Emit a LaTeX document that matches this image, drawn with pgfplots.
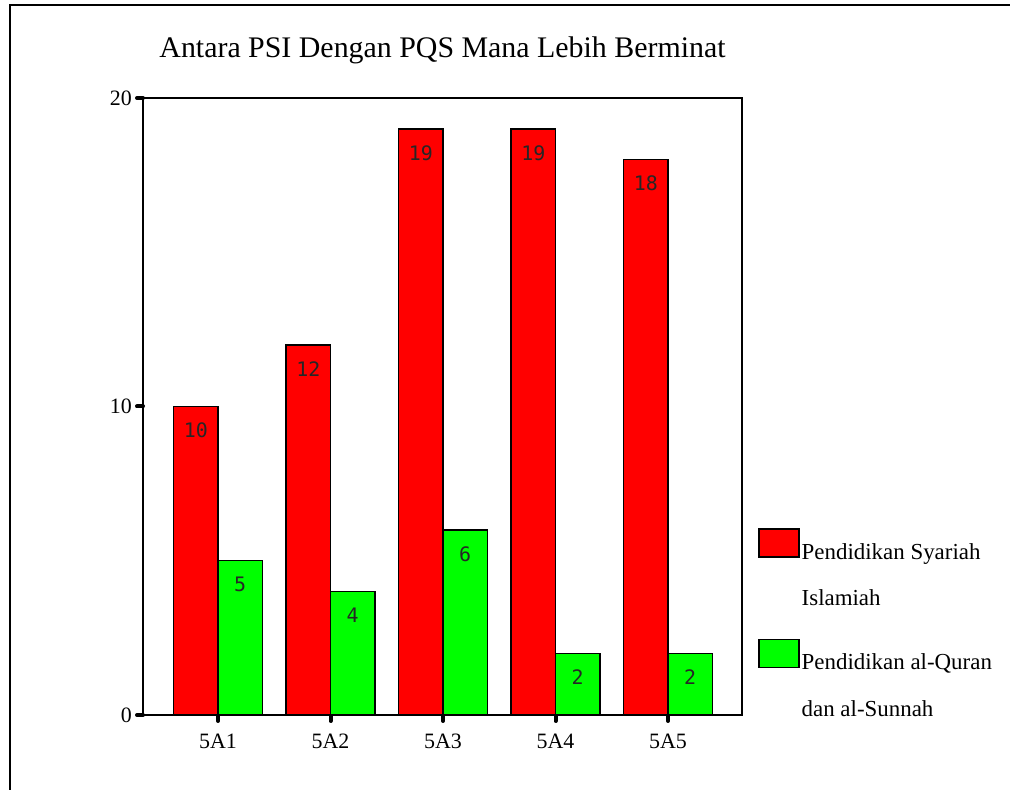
\documentclass[border=0pt]{standalone}
\usepackage{pgfplots}
\pgfplotsset{compat=1.18}
\usepackage{fontspec}
\setmainfont{Liberation Serif}
\newfontfamily\monof{DejaVu Sans Mono}
\definecolor{psired}{RGB}{255,0,0}
\definecolor{pqsgreen}{RGB}{0,255,0}
\begin{document}
\begin{tikzpicture}[x=1bp,y=1bp]
\useasboundingbox (0,0) rectangle (1010,790);
\draw[line width=2bp] (10,-10) -- (10,785) -- (1020,785);
\begin{axis}[
  at={(143bp,75bp)}, anchor=south west,
  scale only axis, width=599bp, height=617bp,
  xmin=-0.667, xmax=4.658, ymin=0, ymax=20,
  ytick={0,10,20}, xtick={0,1,2,3,4},
  xticklabels={5A1,5A2,5A3,5A4,5A5},
  /pgf/number format/assume math mode=true,
  axis line style={line width=2bp},
  tick align=outside, major tick length=6bp, tick pos=left,
  tick style={line width=4bp, line cap=round, black},
  yticklabel style={font=\fontsize{22}{22}\selectfont, inner sep=0pt, anchor=east, xshift=-5bp},
  xticklabel style={font=\fontsize{22}{22}\selectfont, inner sep=0pt, anchor=north, yshift=-13bp},
  title={Antara PSI Dengan PQS Mana Lebih Berminat},
  title style={at={(0.5,1)}, anchor=base, yshift=35bp, inner sep=0pt,
    font=\fontsize{30}{32}\selectfont},
  ybar, bar width=0.394,
  nodes near coords,
  every node near coord/.append style={font=\monof\fontsize{20}{20}\selectfont,
    anchor=center, yshift=-24bp, text=black!85},
  legend cell align=left,
  legend style={at={(1.0267,0.3031)}, anchor=north west, draw=none, fill=none,
    inner sep=0pt, row sep=30bp, column sep=0bp,
    cells={anchor=north west, align=left, inner sep=0pt,
      font=\fontsize{23}{46.5}\selectfont}},
  legend image code/.code={\draw[#1, line width=1.5bp] (0bp,-28bp) rectangle (40bp,0bp);},
]
\addplot[fill=psired, draw=black, line width=1.5bp, bar shift=-0.197]
  coordinates {(0,10) (1,12) (2,19) (3,19) (4,18)};
\addlegendentry{\rule{0pt}{28bp}Pendidikan Syariah\\Islamiah}
\addplot[fill=pqsgreen, draw=black, line width=1.5bp, bar shift=0.197]
  coordinates {(0,5) (1,4) (2,6) (3,2) (4,2)};
\addlegendentry{\rule{0pt}{28bp}Pendidikan al-Quran\\dan al-Sunnah}
\end{axis}
\end{tikzpicture}
\end{document}
